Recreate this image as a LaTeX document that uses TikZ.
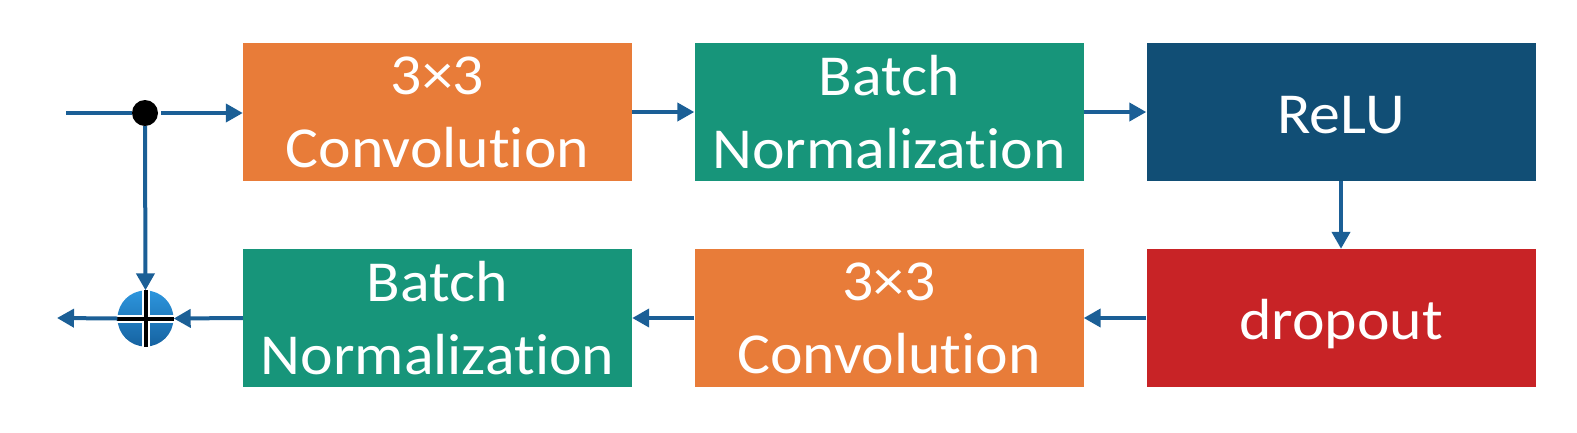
\documentclass[tikz,border=0pt]{standalone}
\usepackage{fontspec}
\setmainfont{Carlito}[Ligatures=NoCommon, FakeStretch=1.065]
\usetikzlibrary{arrows.meta}
\definecolor{corange}{RGB}{232,124,57}
\definecolor{cteal}{RGB}{23,149,122}
\definecolor{cnavy}{RGB}{17,78,117}
\definecolor{cred}{RGB}{200,35,38}
\definecolor{carrow}{RGB}{27,95,150}
\definecolor{cplustop}{RGB}{45,150,222}
\definecolor{cplusbot}{RGB}{22,98,160}
\tikzset{
  blk/.style={minimum width=389pt, minimum height=138pt, inner sep=0pt, text=white,
    font=\fontsize{58}{73}\selectfont, align=center},
  one/.style={text height=44pt, text depth=2pt},
  conn/.style={draw=carrow, line width=4pt, -{Triangle[length=17pt,width=18pt]}},
  plain/.style={draw=carrow, line width=4pt}
}
\begin{document}
\begin{tikzpicture}[x=1pt,y=-1pt]
\useasboundingbox (0,0) rectangle (1577,432);
\node[blk, fill=corange] (c1) at (437.5,112) {3×3\\Convolution};
\node[blk, fill=cteal] (b1) at (889,112) {Batch\\Normalization};
\node[blk, one, fill=cnavy] (relu) at (1341,112) {ReLU};
\node[blk, one, fill=cred] (drop) at (1341,318) {dropout};
\node[blk, fill=corange] (c2) at (889,318) {3×3\\Convolution};
\node[blk, fill=cteal] (b2) at (437.5,318) {Batch\\Normalization};
% split dot
\node[circle, fill=black, minimum size=26pt, inner sep=0pt] (dot) at (145,113) {};
\coordinate (in) at (66,113);
\coordinate (out) at (57,318);
% plus circle
\node[circle, minimum size=56pt, inner sep=0pt, top color=cplustop, bottom color=cplusbot, shading angle=0] (plus) at (145.5,318.5) {};
\draw[white, line width=8pt] (plus.north) -- (plus.south) (plus.west) -- (plus.east);
\draw[black, line width=4pt] (plus.north) -- (plus.south) (plus.west) -- (plus.east);
% connectors
\draw[plain] (in) -- (dot.west);
\draw[conn] ([xshift=3pt]dot.east) -- (c1.west |- dot.east);
\draw[conn] (c1.east |- 0,112) -- (b1.west |- 0,112);
\draw[conn] (b1.east |- 0,112) -- (relu.west |- 0,112);
\draw[conn] (relu.south) -- (drop.north);
\draw[conn] (drop.west) -- (c2.east);
\draw[conn] (c2.west) -- (b2.east);
\draw[conn] (b2.west) -- (plus.east);
\draw[conn] (plus.west) -- (out);
\draw[conn] (dot.south) -- (plus.north);
\end{tikzpicture}
\end{document}
